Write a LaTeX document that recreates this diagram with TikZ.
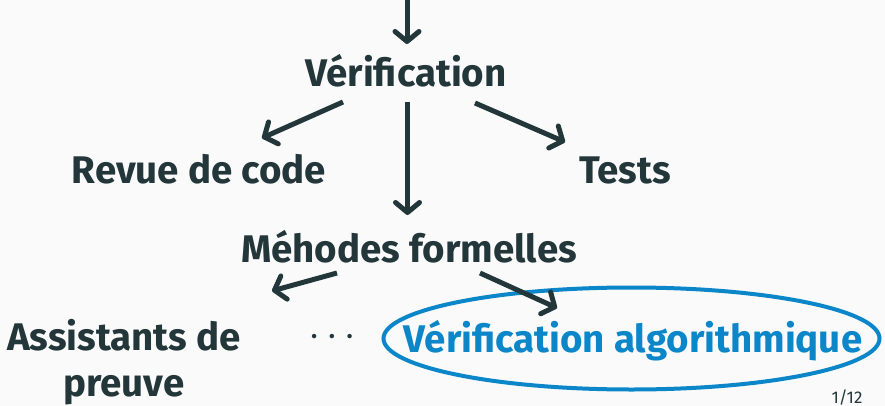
\documentclass[tikz,border=0pt]{standalone}
\usepackage{fontspec}
\setmainfont{Fira Sans}
\usetikzlibrary{arrows.meta,calc}
\definecolor{fg}{HTML}{23373B}
\definecolor{bg}{HTML}{FAFAFA}
\definecolor{hl}{HTML}{0A86C9}
\begin{document}
\begin{tikzpicture}[x=1pt,y=-1pt,
  lbl/.style={font=\fontsize{38.5}{46}\selectfont\bfseries, text=fg, inner sep=0pt, anchor=base},
  arr/.style={draw=fg, line width=5pt, -{Straight Barb[length=10pt,width=24pt,round]}},
  ring/.style={draw=hl, line width=4pt}
]
\fill[bg] (0,0) rectangle (885,406);
\useasboundingbox (0,0) rectangle (885,406);
\coordinate (in) at (407,-2);
\node[lbl] (v) at (406,87) {Vérification};
\node[lbl] (rc) at (199,183) {Revue de code};
\node[lbl] (t) at (625,183) {Tests};
\node[lbl] (mf) at (409,262) {Méhodes formelles};
\node[lbl, align=center, anchor=center] (ap) at (124,362) {Assistants de\\preuve};
\node[font=\fontsize{32}{40}\selectfont, text=fg, inner sep=0pt] (dots) at (332,340) {·\hspace{10pt}·\hspace{10pt}·};
\node[lbl, text=hl] (va) at (633,352) {Vérification algorithmique};
\draw[ring] ($(va.base)+(-1.5,-13.5)$) ellipse [x radius=248, y radius=51];
\node[font=\fontsize{17}{20}\selectfont, text=fg, inner sep=0pt, anchor=base] (pg) at (847,403) {1/12};
\draw[arr] (in) -- ($(v.base)+(1,-43)$);
\draw[arr] ($(v.base)+(-63,15)$) -- ($(rc.base)+(63,-45)$);
\draw[arr] ($(v.base)+(69,16)$) -- ($(t.base)+(-60,-41)$);
\draw[arr] ($(v.base)+(1.5,15)$) -- ($(mf.base)+(-1.5,-47)$);
\draw[arr] ($(mf.base)+(-72,11)$) -- ($(ap.north)+(148,-28)$);
\draw[arr] ($(mf.base)+(71,11)$) -- ($(va.base)+(-76,-44)$);
\end{tikzpicture}
\end{document}
